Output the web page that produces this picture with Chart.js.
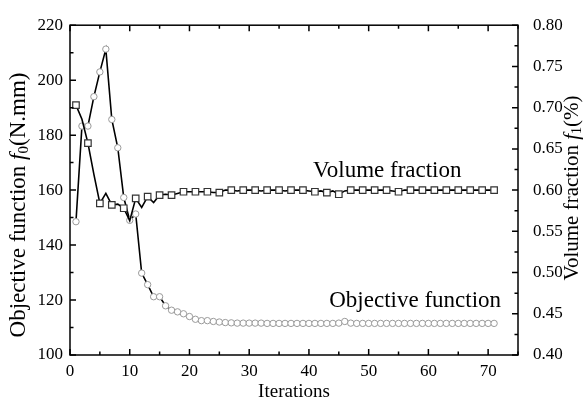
<!DOCTYPE html>
<html>
<head>
<meta charset="utf-8">
<script src="https://cdn.jsdelivr.net/npm/chart.js@4.4.1/dist/chart.umd.min.js"></script>
<style>
  html, body { margin: 0; padding: 0; background: #fff; }
  #wrap { width: 585px; height: 406px; position: relative; }
</style>
</head>
<body>
<div id="wrap"><canvas id="chart"></canvas></div>
<script>
const iterations = [1, 2, 3, 4, 5, 6, 7, 8, 9, 10, 11, 12, 13, 14, 15, 16, 17, 18, 19, 20,
    21, 22, 23, 24, 25, 26, 27, 28, 29, 30, 31, 32, 33, 34, 35, 36, 37, 38, 39, 40,
    41, 42, 43, 44, 45, 46, 47, 48, 49, 50, 51, 52, 53, 54, 55, 56, 57, 58, 59, 60,
    61, 62, 63, 64, 65, 66, 67, 68, 69, 70, 71];

const objectiveValues = [148.5, 183.3, 183.3, 194.0, 203.0, 211.3, 185.7, 175.4, 157.3, 149.0,
    151.3, 129.8, 125.6, 121.2, 121.2, 117.9, 116.3, 115.7, 115.0, 114.0,
    113.0, 112.5, 112.5, 112.2, 112.0, 111.8, 111.7, 111.6, 111.6, 111.6,
    111.6, 111.6, 111.5, 111.5, 111.5, 111.5, 111.5, 111.5, 111.5, 111.5,
    111.5, 111.5, 111.5, 111.5, 111.6, 112.2, 111.6, 111.5, 111.5, 111.5,
    111.5, 111.5, 111.5, 111.5, 111.5, 111.5, 111.5, 111.5, 111.5, 111.5,
    111.5, 111.5, 111.5, 111.5, 111.5, 111.5, 111.5, 111.5, 111.5, 111.5, 111.5];

const volumeValues = [0.703, 0.686, 0.657, 0.619, 0.584, 0.596, 0.582, 0.583, 0.578, 0.563,
    0.590, 0.579, 0.592, 0.585, 0.594, 0.595, 0.594, 0.596, 0.598, 0.598,
    0.598, 0.598, 0.598, 0.597, 0.597, 0.600, 0.600, 0.599, 0.600, 0.600,
    0.600, 0.599, 0.600, 0.600, 0.600, 0.599, 0.600, 0.600, 0.600, 0.599,
    0.598, 0.599, 0.597, 0.599, 0.595, 0.599, 0.600, 0.600, 0.600, 0.600,
    0.600, 0.600, 0.600, 0.599, 0.598, 0.600, 0.600, 0.600, 0.600, 0.600,
    0.600, 0.600, 0.600, 0.600, 0.600, 0.600, 0.600, 0.600, 0.600, 0.600, 0.600];

const xTicks = [0, 10, 20, 30, 40, 50, 60, 70];
const leftTicks = [100, 120, 140, 160, 180, 200, 220];
const rightTicks = [0.40, 0.45, 0.50, 0.55, 0.60, 0.65, 0.70, 0.75, 0.80];

const SERIF = '"Liberation Serif", "Times New Roman", serif';

// inward ticks + closed frame, like the Origin style plot
const frameTicks = {
    id: 'frameTicks',
    afterDraw(chart) {
        const { ctx, chartArea: a, scales } = chart;
        const x = scales.x, y = scales.y, y1 = scales.y1;
        ctx.save();
        ctx.strokeStyle = '#000';
        ctx.lineWidth = 1.5;
        ctx.strokeRect(a.left, a.top, a.right - a.left, a.bottom - a.top);

        ctx.beginPath();
        for (let v = 0; v <= 75; v += 5) {
            const px = x.getPixelForValue(v);
            const len = v % 10 === 0 ? 6 : 3.5;
            ctx.moveTo(px, a.bottom); ctx.lineTo(px, a.bottom - len);
            ctx.moveTo(px, a.top); ctx.lineTo(px, a.top + len);
        }
        for (let v = 100; v <= 220; v += 10) {
            const py = y.getPixelForValue(v);
            const len = v % 20 === 0 ? 6 : 3.5;
            ctx.moveTo(a.left, py); ctx.lineTo(a.left + len, py);
        }
        for (let i = 0; i <= 16; i++) {
            const v = 0.4 + i * 0.025;
            const py = y1.getPixelForValue(v);
            const len = i % 2 === 0 ? 6 : 3.5;
            ctx.moveTo(a.right, py); ctx.lineTo(a.right - len, py);
        }
        ctx.stroke();
        ctx.restore();
    }
};

function drawPieces(ctx, pieces, cx, cy) {
    let total = 0;
    pieces.forEach(p => { ctx.font = p.font; total += ctx.measureText(p.text).width; });
    let pos = cx - total / 2;
    pieces.forEach(p => {
        ctx.font = p.font;
        ctx.fillText(p.text, pos, cy + (p.dy || 0));
        pos += ctx.measureText(p.text).width;
    });
}

const textLayer = {
    id: 'textLayer',
    afterDraw(chart) {
        const { ctx, chartArea: a, scales } = chart;
        ctx.save();
        ctx.fillStyle = '#000';
        ctx.textBaseline = 'middle';
        ctx.textAlign = 'left';

        // x title
        drawPieces(ctx, [{ text: 'Iterations', font: '19px ' + SERIF }], (a.left + a.right) / 2, 392);

        // left title
        ctx.save();
        ctx.translate(19, 205);
        ctx.rotate(-Math.PI / 2);
        drawPieces(ctx, [
            { text: 'Objective function ', font: '23px ' + SERIF },
            { text: 'f', font: 'italic 23px ' + SERIF },
            { text: '0', font: '15px ' + SERIF, dy: 5 },
            { text: '(N.mm)', font: '23px ' + SERIF }
        ], 0, 0);
        ctx.restore();

        // right title
        ctx.save();
        ctx.translate(572, 188);
        ctx.rotate(-Math.PI / 2);
        drawPieces(ctx, [
            { text: 'Volume fraction ', font: '21px ' + SERIF },
            { text: 'f', font: 'italic 21px ' + SERIF },
            { text: '1', font: '14px ' + SERIF, dy: 5 },
            { text: '(%)', font: '21px ' + SERIF }
        ], 0, 0);
        ctx.restore();

        // series annotations
        ctx.font = '23px ' + SERIF;
        ctx.fillText('Volume fraction', scales.x.getPixelForValue(40.7), scales.y1.getPixelForValue(0.623));
        ctx.fillText('Objective function', scales.x.getPixelForValue(43.4), scales.y.getPixelForValue(119.6));
        ctx.restore();
    }
};

new Chart(document.getElementById('chart'), {
    type: 'line',
    data: {
        datasets: [
            {
                label: 'Volume fraction',
                data: iterations.map((it, i) => ({ x: it, y: volumeValues[i] })),
                yAxisID: 'y1',
                borderColor: '#000',
                borderWidth: 1.6,
                pointStyle: 'rect',
                pointRadius: c => (c.dataIndex % 2 === 0 ? 4.6 : 0),
                pointBackgroundColor: '#fff',
                pointBorderColor: '#333',
                pointBorderWidth: 1.2,
                tension: 0
            },
            {
                label: 'Objective function',
                data: iterations.map((it, i) => ({ x: it, y: objectiveValues[i] })),
                yAxisID: 'y',
                borderColor: '#000',
                borderWidth: 1.6,
                pointStyle: 'circle',
                pointRadius: 3.2,
                pointBackgroundColor: '#fff',
                pointBorderColor: '#9a9a9a',
                pointBorderWidth: 1,
                tension: 0
            }
        ]
    },
    options: {
        responsive: true,
        maintainAspectRatio: false,
        animation: false,
        layout: { padding: { top: 20 } },
        plugins: {
            legend: { display: false },
            tooltip: { enabled: false }
        },
        scales: {
            x: {
                type: 'linear',
                min: 0,
                max: 75,
                grid: { display: false, drawTicks: false },
                border: { display: false },
                afterBuildTicks: s => { s.ticks = xTicks.map(v => ({ value: v })); },
                afterFit: s => { s.height = 51; },
                ticks: {
                    color: '#000',
                    padding: 6,
                    maxRotation: 0,
                    font: { family: SERIF, size: 17 }
                }
            },
            y: {
                position: 'left',
                min: 100,
                max: 220,
                grid: { display: false, drawTicks: false },
                border: { display: false },
                afterBuildTicks: s => { s.ticks = leftTicks.map(v => ({ value: v })); },
                afterFit: s => { s.width = 70; },
                ticks: {
                    color: '#000',
                    padding: 7,
                    font: { family: SERIF, size: 17 }
                }
            },
            y1: {
                position: 'right',
                min: 0.4,
                max: 0.8,
                grid: { display: false, drawTicks: false },
                border: { display: false },
                afterBuildTicks: s => { s.ticks = rightTicks.map(v => ({ value: v })); },
                afterFit: s => { s.width = 67; },
                ticks: {
                    color: '#000',
                    padding: 15,
                    font: { family: SERIF, size: 17 },
                    callback: v => Number(v).toFixed(2)
                }
            }
        }
    },
    plugins: [frameTicks, textLayer]
});
</script>
</body>
</html>
